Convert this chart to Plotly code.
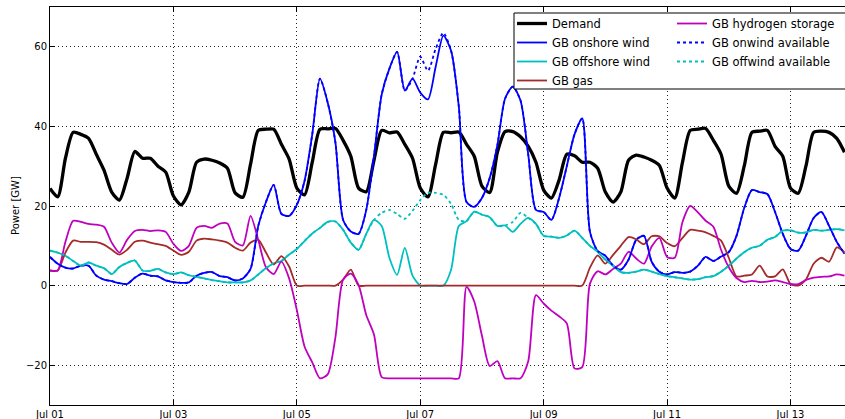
import pandas as pd
import plotly.graph_objects as go

# 3-hourly samples from 2017-07-01 00:00
start = "2017-07-01 00:00"
step_hours = 3

demand = [
    24.4, 22.3, 32.0, 38.5, 38.0, 37.0, 33.0, 29.0,
    23.5, 21.5, 27.0, 33.7, 32.0, 32.0, 30.0, 28.5,
    22.5, 20.3, 23.5, 31.0, 31.8, 31.5, 30.8, 29.5,
    23.3, 22.2, 30.5, 39.0, 39.3, 39.3, 35.5, 31.8,
    24.5, 22.8, 31.0, 39.3, 39.4, 39.5, 36.5, 32.5,
    24.5, 23.6, 31.5, 39.0, 38.4, 38.6, 35.5, 32.0,
    24.5, 22.3, 30.5, 38.5, 38.4, 38.6, 35.5, 32.5,
    25.0, 23.4, 33.5, 38.7, 38.7, 37.4, 35.0, 31.0,
    24.0, 22.0, 26.5, 33.0, 32.6, 31.0, 31.0, 29.5,
    23.5, 21.0, 23.5, 31.5, 32.8, 32.3, 31.5, 30.2,
    24.5, 22.0, 31.0, 39.0, 39.3, 39.5, 36.5, 33.0,
    25.0, 23.2, 30.0, 38.5, 38.8, 39.0, 35.0, 32.5,
    24.5, 23.2, 30.0, 38.5, 38.8, 38.5, 37.0, 33.5,
]

onshore = [
    7.2, 5.5, 4.5, 4.3, 5.0, 5.0, 2.5, 1.5,
    1.1, 0.6, 0.4, 2.0, 3.0, 2.5, 2.3, 1.3,
    0.9, 0.7, 0.8, 2.5, 3.2, 3.4, 2.4, 2.1,
    1.3, 1.8, 4.2, 15.0, 21.0, 25.3, 18.0, 17.5,
    20.3, 26.3, 38.0, 52.0, 46.0, 36.0, 16.5, 13.6,
    13.0, 19.0, 32.5, 48.0, 54.5, 58.7, 49.0, 52.0,
    48.5, 46.8, 55.0, 62.8, 59.0, 45.0, 21.0, 19.8,
    22.0, 27.0, 35.3, 47.0, 50.0, 46.5, 33.0, 19.0,
    18.5, 16.5, 22.0, 30.0, 38.0, 42.0, 13.5, 8.7,
    7.5, 5.0, 4.0, 6.5, 11.5, 12.5, 6.0, 3.5,
    2.8, 3.4, 3.2, 3.5, 5.0, 7.2, 6.2, 7.3,
    8.4, 12.5, 19.5, 24.0, 23.5, 23.0, 18.5, 13.0,
    9.2, 8.8, 12.5, 17.0, 18.5, 15.0, 11.0, 8.0,
]

offshore = [
    8.8, 8.3, 7.5, 6.2, 5.0, 5.8, 5.0, 4.4,
    2.9, 4.7, 5.7, 6.3, 3.8, 3.7, 4.2, 3.3,
    2.9, 3.3, 2.6, 2.2, 1.8, 1.4, 1.1, 0.8,
    0.8, 0.8, 1.3, 2.8, 4.4, 5.6, 6.2, 7.8,
    9.2, 11.2, 13.1, 14.5, 16.0, 16.1, 14.0, 10.8,
    9.0, 13.0, 16.5, 15.0, 7.0, 2.7, 9.5, 2.5,
    0.0, 0.0, 0.0, 0.0, 4.0, 15.0, 16.2, 18.6,
    17.8, 17.2, 15.0, 15.1, 13.5, 15.5, 17.0, 15.5,
    12.5, 12.3, 12.0, 12.6, 13.8, 12.0, 10.0, 8.5,
    6.5, 5.0, 3.4, 3.2, 3.5, 4.0, 3.5, 2.9,
    2.4, 2.1, 1.8, 1.5, 1.6, 2.1, 2.4, 3.5,
    5.0, 6.8, 8.4, 9.5, 10.0, 11.5, 12.2, 13.8,
    13.9, 13.3, 13.4, 14.0, 13.8, 14.0, 14.2, 13.9,
]

gas = [
    3.8, 3.8, 8.3, 11.3, 11.0, 11.0, 10.9, 10.3,
    9.0, 7.8, 9.0, 11.0, 11.3, 10.8, 10.4, 10.0,
    8.8, 7.7, 8.5, 11.3, 11.8, 11.6, 11.3, 10.8,
    9.5, 8.8, 10.8, 11.5, 8.3, 5.3, 7.4, 4.8,
    0.0, 0.0, 0.0, 0.0, 0.0, 0.0, 1.5, 4.0,
    0.0, 0.0, 0.0, 0.0, 0.0, 0.0, 0.0, 0.0,
    0.0, 0.0, 0.0, 0.0, 0.0, 0.0, 0.0, 0.0,
    0.0, 0.0, 0.0, 0.0, 0.0, 0.0, 0.0, 0.0,
    0.0, 0.0, 0.0, 0.0, 0.0, 0.0, 4.5, 7.6,
    5.5, 7.7, 10.0, 12.2, 11.6, 10.4, 12.4, 12.4,
    10.7, 9.9, 12.0, 14.0, 13.8, 13.4, 12.5, 11.3,
    7.0, 2.3, 2.5, 2.8, 5.0, 2.3, 2.3, 4.1,
    0.4, 0.0, 1.5, 5.5, 7.0, 6.0, 9.6, 8.4,
]

hydrogen = [
    3.8, 3.8, 11.0, 16.3, 16.0, 15.5, 15.3, 14.8,
    10.8, 8.3, 11.5, 13.7, 14.0, 13.7, 13.9, 13.5,
    10.5, 8.7, 10.0, 14.5, 15.0, 14.5, 15.6, 15.6,
    11.0, 10.1, 17.5, 11.5, 4.6, 2.9, 6.0, 1.8,
    -6.1, -15.3, -19.3, -23.3, -22.3, -13.0, 1.5, 3.0,
    0.2, -7.4, -12.3, -23.0, -23.3, -23.3, -23.3, -23.3,
    -23.3, -23.3, -23.3, -23.3, -23.3, -23.3, -0.3, -4.0,
    -12.6, -20.2, -19.0, -23.3, -23.3, -23.3, -19.0, -2.4,
    -4.5, -6.3, -7.7, -9.5, -20.8, -20.5, 0.5, 3.6,
    2.8, 4.2, 5.5, 8.5, 6.8, 5.5, 9.8, 12.0,
    7.2, 7.0, 16.0, 20.0, 18.4, 16.3, 14.8, 9.0,
    4.6, 1.9, 0.9, 1.2, 0.9, 1.0, 1.3, 0.9,
    0.4, 0.4, 1.4, 2.0, 2.2, 2.3, 2.8, 2.5,
]

onwind_available = [
    7.2, 5.5, 4.5, 4.3, 5.0, 5.0, 2.5, 1.5,
    1.1, 0.6, 0.4, 2.0, 3.0, 2.5, 2.3, 1.3,
    0.9, 0.7, 0.8, 2.5, 3.2, 3.4, 2.4, 2.1,
    1.3, 1.8, 4.2, 15.0, 21.0, 25.3, 18.0, 17.5,
    20.3, 26.3, 38.0, 52.0, 46.0, 36.0, 16.5, 13.6,
    13.0, 19.0, 32.5, 48.0, 54.5, 58.7, 49.0, 52.0,
    57.5, 54.0, 59.5, 63.5, 59.0, 45.0, 21.0, 19.8,
    22.0, 27.0, 35.3, 47.0, 50.0, 46.5, 33.0, 19.0,
    18.5, 16.5, 22.0, 30.0, 38.0, 42.0, 13.5, 8.7,
    7.5, 5.0, 4.0, 6.5, 11.5, 12.5, 6.0, 3.5,
    2.8, 3.4, 3.2, 3.5, 5.0, 7.2, 6.2, 7.3,
    8.4, 12.5, 19.5, 24.0, 23.5, 23.0, 18.5, 13.0,
    9.2, 8.8, 12.5, 17.0, 18.5, 15.0, 11.0, 8.0,
]

offwind_available = [
    8.8, 8.3, 7.5, 6.2, 5.0, 5.8, 5.0, 4.4,
    2.9, 4.7, 5.7, 6.3, 3.8, 3.7, 4.2, 3.3,
    2.9, 3.3, 2.6, 2.2, 1.8, 1.4, 1.1, 0.8,
    0.8, 0.8, 1.3, 2.8, 4.4, 5.6, 6.2, 7.8,
    9.2, 11.2, 13.1, 14.5, 16.0, 16.1, 14.0, 10.8,
    9.0, 13.0, 16.5, 18.3, 19.0, 18.0, 16.8, 18.8,
    21.5, 23.3, 23.3, 22.8, 20.5, 16.5, 16.2, 18.6,
    17.8, 17.2, 15.0, 15.1, 16.0, 18.3, 17.0, 15.5,
    12.5, 12.3, 12.0, 12.6, 13.8, 12.0, 10.0, 8.5,
    6.5, 5.0, 3.4, 3.2, 3.5, 4.0, 3.5, 2.9,
    2.4, 2.1, 1.8, 1.5, 1.6, 2.1, 2.4, 3.5,
    5.0, 6.8, 8.4, 9.5, 10.0, 11.5, 12.2, 13.8,
    13.9, 13.3, 13.4, 14.0, 13.8, 14.0, 14.2, 13.9,
]

times = pd.date_range(start, periods=len(demand), freq=f"{step_hours}h")

series = [
    ("Demand", demand, "black", 3.3, "solid", "legend"),
    ("GB onshore wind", onshore, "#0000ff", 1.8, "solid", "legend"),
    ("GB offshore wind", offshore, "#00bfbf", 1.8, "solid", "legend"),
    ("GB gas", gas, "#a52a2a", 1.8, "solid", "legend"),
    ("GB hydrogen storage", hydrogen, "#bf00bf", 1.8, "solid", "legend2"),
    ("GB onwind available", onwind_available, "#0000ff", 1.8, "dot", "legend2"),
    ("GB offwind available", offwind_available, "#00bfbf", 1.8, "dot", "legend2"),
]

fig = go.Figure()
for name, vals, color, width, dash, leg in series:
    fig.add_trace(go.Scatter(
        x=times, y=vals, mode="lines", name=name, legend=leg,
        line=dict(color=color, width=width, dash=dash,
                  shape="spline", smoothing=0.7),
    ))

W, H = 845, 419
L, R, T, B = 50, 0, 7, 14
pw, ph = W - L - R, H - T - B

def px_x(p):
    return (p - L) / pw

def px_y(p):
    return (H - B - p) / ph

x_end = pd.Timestamp(start) + pd.Timedelta(hours=309.2)

fig.update_layout(
    template="none",
    width=W, height=H,
    margin=dict(l=L, r=R, t=T, b=B, autoexpand=False),
    plot_bgcolor="white", paper_bgcolor="white",
    font=dict(family="DejaVu Sans", size=10, color="black"),
    showlegend=True,
    legend=dict(x=px_x(512), y=px_y(9), xanchor="left", yanchor="top",
                bgcolor="rgba(0,0,0,0)", borderwidth=0,
                font=dict(size=11.5), tracegroupgap=0),
    legend2=dict(x=px_x(672), y=px_y(9), xanchor="left", yanchor="top",
                 bgcolor="rgba(0,0,0,0)", borderwidth=0,
                 font=dict(size=11.5), tracegroupgap=0),
    shapes=[dict(type="rect", xref="paper", yref="paper",
                 x0=px_x(514), x1=px_x(846), y0=px_y(89), y1=px_y(13),
                 fillcolor="white", line=dict(color="black", width=1),
                 layer="above")],
    annotations=[dict(text="Power [GW]", xref="paper", yref="paper",
                      x=px_x(15), y=0.5, xanchor="center", yanchor="middle",
                      textangle=-90, showarrow=False, font=dict(size=10))],
)

fig.update_xaxes(
    type="date", range=[pd.Timestamp(start), x_end], automargin=False,
    tickformat="%b %d", dtick=2 * 86400000, tick0=start,
    ticks="inside", ticklen=5, tickcolor="black",
    showline=True, linecolor="black", linewidth=1, mirror="ticks",
    showgrid=True, gridcolor="#222222", griddash="1px,3px", gridwidth=1,
    zeroline=False, tickfont=dict(size=10),
)
fig.update_yaxes(
    range=[-30, 70], dtick=20, tick0=0, automargin=False,
    ticks="inside", ticklen=5, tickcolor="black",
    showline=True, linecolor="black", linewidth=1, mirror="ticks",
    showgrid=True, gridcolor="#222222", griddash="1px,3px", gridwidth=1,
    zeroline=False, tickfont=dict(size=10),
)

fig.write_html(
    "out.html",
    config={"displayModeBar": False},
    post_script="document.body.style.margin='0';document.body.style.overflow='hidden';",
)
